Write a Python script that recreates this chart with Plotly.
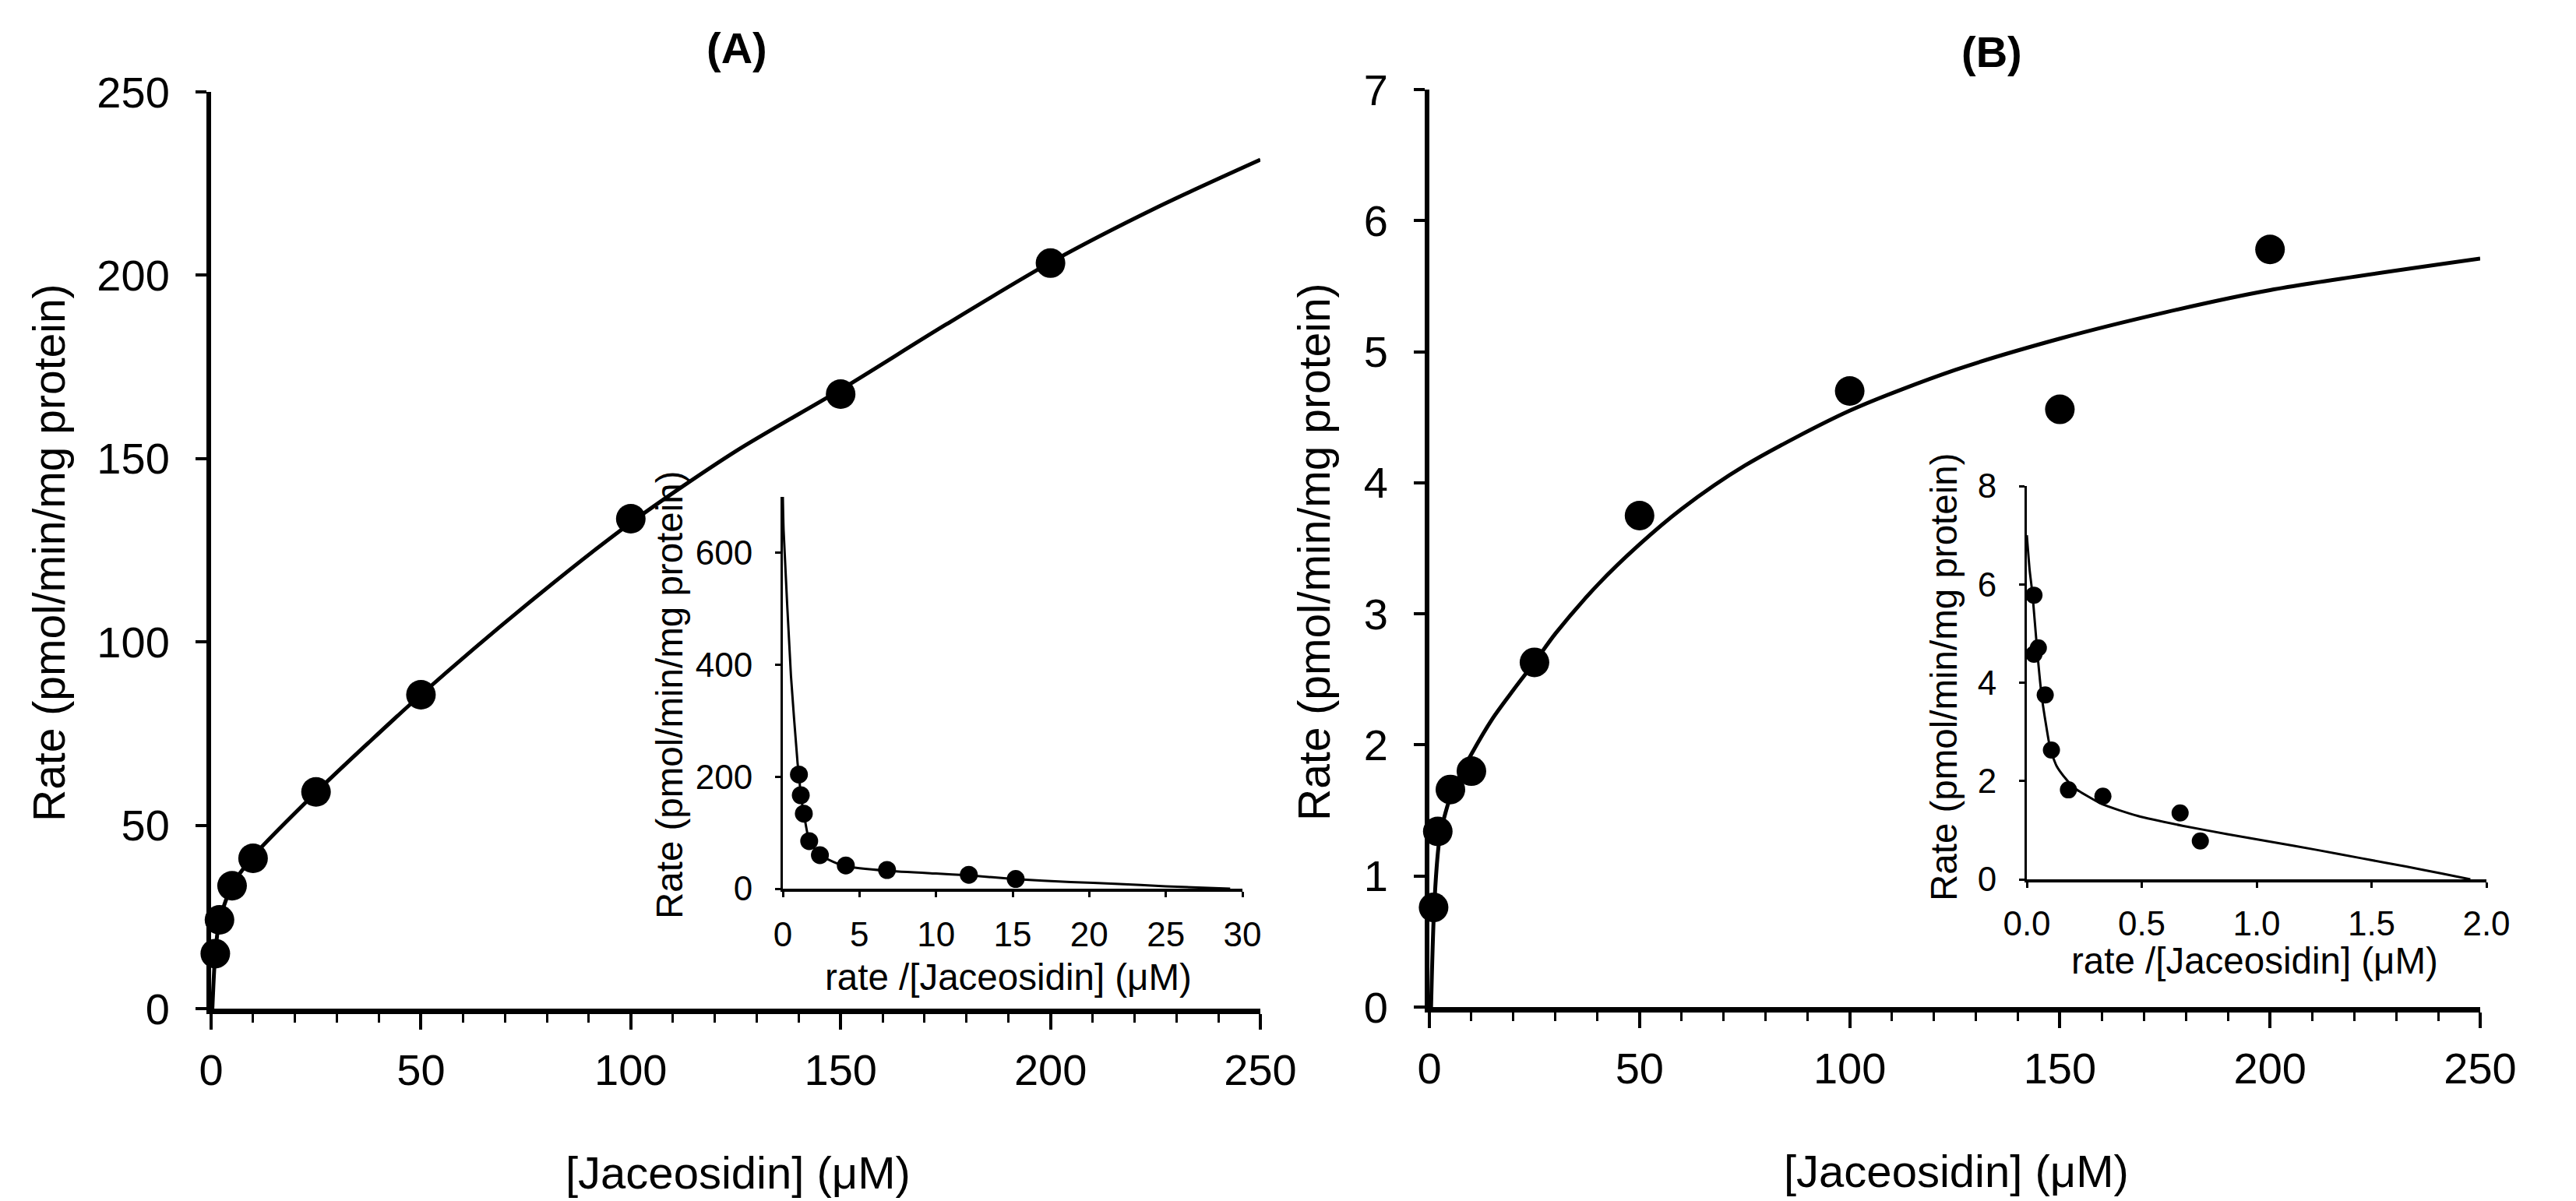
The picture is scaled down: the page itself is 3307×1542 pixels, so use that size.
import plotly.graph_objects as go

W, H = 3307, 1542
FONT = "Arial, Liberation Sans, sans-serif"

# ---------------- data ----------------
conc = [1, 2, 5, 10, 25, 50, 100, 150, 200]
rate_a = [15.0, 24.2, 33.5, 41.0, 59.1, 85.6, 133.6, 167.6, 203.3]
rate_b = [0.76, 1.34, 1.66, 1.80, 2.63, 3.75, 4.70, 4.56, 5.78]

fit_a_x = [0.3, 1, 2, 5, 10, 25, 37.5, 50, 75, 100, 125, 150, 175, 200, 225, 250]
fit_a_y = [0, 15, 24, 33.5, 41.5, 59, 72.5, 85.6, 110, 132.5, 152, 168.8, 186.5, 203.5, 218.3, 231.5]

fit_b_x = [0.4, 1.2, 2.5, 5.5, 10, 15, 20, 25, 30, 40, 50, 60, 75, 100, 125, 150, 175, 200, 250]
fit_b_y = [0, 0.8, 1.3, 1.65, 1.93, 2.2, 2.42, 2.63, 2.85, 3.22, 3.53, 3.80, 4.13, 4.55, 4.86, 5.1, 5.3, 5.47, 5.71]

# inset (Eadie-Hofstee) data
ins_a_x = [1.05, 1.17, 1.37, 1.72, 2.42, 4.11, 6.8, 12.14, 15.2]
ins_a_y = [204, 167, 134, 85, 60, 41.5, 33.4, 24.8, 17.3]
ins_fit_a_x = [0, 0.05, 0.53, 0.96, 1.05, 1.17, 1.37, 1.72, 2.42, 3.3, 4.1, 6.8, 10, 12.1, 15.2, 18.8, 21.7, 25, 29.2]
ins_fit_a_y = [700, 640, 380, 225, 204, 167, 134, 86, 60, 48, 40, 32, 27, 24, 17, 12, 8.7, 4.3, 0]

ins_b_x = [0.031, 0.05, 0.031, 0.08, 0.107, 0.181, 0.331, 0.667, 0.755]
ins_b_y = [5.78, 4.71, 4.58, 3.75, 2.63, 1.82, 1.69, 1.35, 0.78]
ins_fit_b_x = [0, 0.012, 0.025, 0.045, 0.064, 0.085, 0.103, 0.13, 0.16, 0.21, 0.327, 0.482,
               0.677, 0.872, 1.066, 1.26, 1.455, 1.65, 1.805, 1.93]
ins_fit_b_y = [7.0, 6.3, 5.78, 4.65, 3.75, 3.1, 2.63, 2.3, 2.1, 1.85, 1.53, 1.29,
               1.09, 0.92, 0.76, 0.6, 0.43, 0.26, 0.12, 0]

main_x_ticks = [0, 50, 100, 150, 200, 250]
main_a_y_ticks = [0, 50, 100, 150, 200, 250]
main_b_y_ticks = [0, 1, 2, 3, 4, 5, 6, 7]
ins_a_x_ticks = [0, 5, 10, 15, 20, 25, 30]
ins_a_y_ticks = [0, 200, 400, 600]
ins_b_x_ticks = [0.0, 0.5, 1.0, 1.5, 2.0]
ins_b_y_ticks = [0, 2, 4, 6, 8]

title_a = "(A)"
title_b = "(B)"
x_title = "[Jaceosidin] (μM)"
y_title = "Rate (pmol/min/mg protein)"
ins_x_title = "rate /[Jaceosidin] (μM)"


def px(x):
    return x / W


def py(y):
    return 1 - y / H


fig = go.Figure()

# main A
fig.add_trace(go.Scatter(x=fit_a_x, y=fit_a_y, mode="lines", line=dict(color="black", width=5, shape="spline", smoothing=0.8),
                         xaxis="x", yaxis="y", cliponaxis=False, showlegend=False))
fig.add_trace(go.Scatter(x=conc, y=rate_a, mode="markers", marker=dict(color="black", size=38),
                         xaxis="x", yaxis="y", cliponaxis=False, showlegend=False))
# main B
fig.add_trace(go.Scatter(x=fit_b_x, y=fit_b_y, mode="lines", line=dict(color="black", width=5, shape="spline", smoothing=0.8),
                         xaxis="x2", yaxis="y2", cliponaxis=False, showlegend=False))
fig.add_trace(go.Scatter(x=conc, y=rate_b, mode="markers", marker=dict(color="black", size=38),
                         xaxis="x2", yaxis="y2", cliponaxis=False, showlegend=False))
# inset A
fig.add_trace(go.Scatter(x=ins_fit_a_x, y=ins_fit_a_y, mode="lines", line=dict(color="black", width=3, shape="spline", smoothing=0.5),
                         xaxis="x3", yaxis="y3", cliponaxis=False, showlegend=False))
fig.add_trace(go.Scatter(x=ins_a_x, y=ins_a_y, mode="markers", marker=dict(color="black", size=23),
                         xaxis="x3", yaxis="y3", cliponaxis=False, showlegend=False))
# inset B
fig.add_trace(go.Scatter(x=ins_fit_b_x, y=ins_fit_b_y, mode="lines", line=dict(color="black", width=3, shape="spline", smoothing=0.5),
                         xaxis="x4", yaxis="y4", cliponaxis=False, showlegend=False))
fig.add_trace(go.Scatter(x=ins_b_x, y=ins_b_y, mode="markers", marker=dict(color="black", size=22),
                         xaxis="x4", yaxis="y4", cliponaxis=False, showlegend=False))


def xaxis(domain, anchor, rng, ticks, lw, ticklen, tw, fsize, standoff, minor=None, fmt=None):
    d = dict(domain=domain, anchor=anchor, range=rng, tickmode="array", tickvals=ticks,
             showline=True, linecolor="black", linewidth=lw, ticks="outside", ticklen=ticklen,
             tickwidth=tw, tickcolor="black", showgrid=False, zeroline=False,
             tickfont=dict(family=FONT, size=fsize, color="black"), ticklabelstandoff=standoff)
    if minor:
        d["minor"] = minor
    if fmt:
        d["tickformat"] = fmt
    return d


def yaxis(domain, anchor, rng, ticks, lw, ticklen, tw, fsize, standoff):
    return dict(domain=domain, anchor=anchor, range=rng, tickmode="array", tickvals=ticks,
                showline=True, linecolor="black", linewidth=lw, ticks="outside", ticklen=ticklen,
                tickwidth=tw, tickcolor="black", showgrid=False, zeroline=False,
                tickfont=dict(family=FONT, size=fsize, color="black"), ticklabelstandoff=standoff)


main_minor = dict(dtick=10, ticks="outside", ticklen=11, tickwidth=3, tickcolor="black", showgrid=False)

fig.update_layout(
    width=W, height=H, margin=dict(l=0, r=0, t=0, b=0),
    paper_bgcolor="white", plot_bgcolor="rgba(0,0,0,0)",
    template="none", showlegend=False,
    xaxis=xaxis([px(271), px(1618)], "y", [0, 250], main_x_ticks, 7, 20, 4, 56, 4, minor=main_minor),
    yaxis=yaxis([py(1295), py(118)], "x", [0, 250], main_a_y_ticks, 6, 14, 4, 56, 22),
    xaxis2=xaxis([px(1835), px(3184)], "y2", [0, 250], main_x_ticks, 7, 20, 4, 56, 4, minor=main_minor),
    yaxis2=yaxis([py(1293), py(115)], "x2", [0, 7], main_b_y_ticks, 6, 14, 4, 56, 22),
    xaxis3=xaxis([px(1005), px(1595)], "y3", [0, 30], ins_a_x_ticks, 3.5, 7, 2.5, 44, 10),
    yaxis3=yaxis([py(1141), py(638)], "x3", [0, 700], ins_a_y_ticks, 3, 7, 2.5, 44, 20),
    xaxis4=xaxis([px(2602), px(3192)], "y4", [0, 2], ins_b_x_ticks, 3.5, 7, 2.5, 44, 8, fmt=".1f"),
    yaxis4=yaxis([py(1129), py(624)], "x4", [0, 8], ins_b_y_ticks, 3, 7, 2.5, 44, 20),
)

ann = []


def add_text(text, x, y, size, angle=0, bold=False):
    ann.append(dict(text=f"<b>{text}</b>" if bold else text, x=px(x), y=py(y), xref="paper", yref="paper",
                    xanchor="center", yanchor="middle", showarrow=False, textangle=angle,
                    font=dict(family=FONT, size=size, color="black")))


add_text(title_a, 946, 62, 56, bold=True)
add_text(title_b, 2557, 67, 56, bold=True)
add_text(x_title, 947, 1505, 58)
add_text(x_title, 2511, 1503, 58)
add_text(y_title, 63, 710, 57, angle=-90)
add_text(y_title, 1687, 708, 57, angle=-90)
add_text(ins_x_title, 1294, 1254, 47.5)
add_text(ins_x_title, 2894, 1233, 47.5)
add_text(y_title, 859, 893, 47.5, angle=-90)
add_text(y_title, 2495, 870, 47.5, angle=-90)

fig.update_layout(annotations=ann)
fig.write_html("out.html")
